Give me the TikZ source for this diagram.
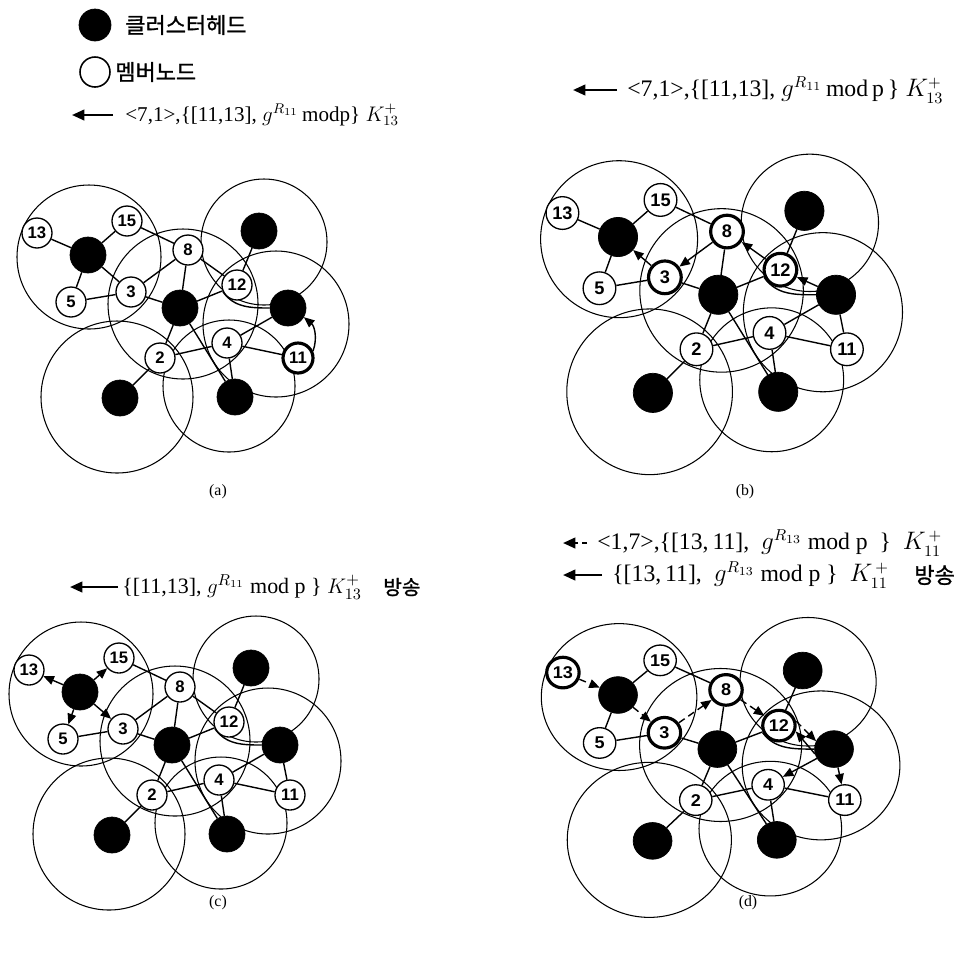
\documentclass[tikz,border=0pt]{standalone}
\usepackage{fontspec}
\setmainfont{Liberation Serif}
\newfontfamily\kofont[FakeBold=1.2]{Noto Sans CJK KR}
\newfontfamily\numfont{Liberation Sans}
\usetikzlibrary{arrows.meta}

\tikzset{
  headnode/.style={circle, fill=black, draw=black, minimum size=0.72cm, inner sep=0pt},
  memnode/.style={circle, fill=white, draw=black, line width=0.75pt, minimum size=0.6cm,
    inner sep=0pt, font=\numfont\bfseries\fontsize{9.5}{10}\selectfont},
  hotnode/.style={line width=1.8pt},
  cover/.style={draw=black, line width=0.6pt},
  linkline/.style={draw=black, line width=0.8pt},
  arrline/.style={linkline, -{Triangle[length=6pt,width=5pt]}},
  darrline/.style={arrline, dash pattern=on 4pt off 2.5pt},
  keyarr/.style={draw=black, line width=1.3pt, -{Triangle[length=7pt,width=6pt]}},
  dkeyarr/.style={keyarr, dash pattern=on 3pt off 2pt},
  ttl/.style={anchor=west, inner sep=0pt, font=\fontsize{12}{14}\selectfont},
  kottl/.style={anchor=west, inner sep=0pt, font=\kofont\fontsize{11.5}{13}\selectfont},
  plabel/.style={font=\fontsize{9}{10}\selectfont},
  h13/.style={}, h3/.style={}, h8/.style={}, h12/.style={}, h11/.style={},
}

% one cluster network: coverage ranges, heads, members and the fixed links
\newcommand{\netbase}[1]{%
  \draw[cover] (1,2) circle[radius=72];
  \draw[cover] (95,49) circle[radius=75];
  \draw[cover] (176,-13) circle[radius=63];
  \draw[cover] (188,69) circle[radius=73];
  \draw[cover] (29,142) circle[radius=76];
  \draw[cover] (141,131) circle[radius=66];
  \node[headnode] (#1h1) at (0,0) {};
  \node[headnode] (#1hc) at (92,53) {};
  \node[headnode] (#1ht) at (171,-24) {};
  \node[headnode] (#1hr) at (200,53) {};
  \node[headnode] (#1hl) at (32,143) {};
  \node[headnode] (#1hm) at (147,142) {};
  \node[memnode,h13] (#1n13) at (-51,-22) {13};
  \node[memnode] (#1n15) at (39,-34) {15};
  \node[memnode] (#1n5) at (-17,47) {5};
  \node[memnode,h3] (#1n3) at (43,37) {3};
  \node[memnode,h8] (#1n8) at (100,-5) {8};
  \node[memnode,h12] (#1n12) at (149,30) {12};
  \node[memnode] (#1n4) at (139,88) {4};
  \node[memnode,h11] (#1n11) at (210,103) {11};
  \node[memnode] (#1n2) at (72,103) {2};
  \draw[linkline] (#1n5) -- (#1n3);
  \draw[linkline] (#1n15) -- (#1n8);
  \draw[linkline] (#1n3) -- (#1hc);
  \draw[linkline] (#1n8) -- (#1hc);
  \draw[linkline] (#1n12) -- (#1hc);
  \draw[linkline] (#1n12) -- (#1ht);
  \draw[linkline] (#1n12.205) to[out=-55,in=180] (#1hr.west);
  \draw[linkline] (#1hc) -- (#1n2);
  \draw[linkline] (#1hc) -- (#1hm);
  \draw[linkline] (#1n2) -- (#1n4);
  \draw[linkline] (#1n2) -- (#1hl);
  \draw[linkline] (#1n4) -- (#1n11);
  \draw[linkline] (#1n4) -- (#1hm);
}

\begin{document}
\begin{tikzpicture}[x=0.02cm, y=-0.02cm]
\useasboundingbox (0,0) rectangle (962,958);

% legend
\node[headnode, minimum size=0.64cm] (lgh) at (95,25) {};
\node[anchor=west, inner sep=0pt, font=\kofont\fontsize{12.5}{14}\selectfont] (lght) at (125,25) {클러스터헤드};
\node[circle, draw=black, line width=0.9pt, minimum size=0.6cm, inner sep=0pt] (lgm) at (95,72) {};
\node[anchor=west, inner sep=0pt, font=\kofont\fontsize{12.5}{14}\selectfont] (lgmt) at (115,72) {멤버노드};

% (a) member 11 reports to its head
\coordinate (aa1) at (113,115); \coordinate (aa2) at (72,115);
\draw[keyarr] (aa1) -- (aa2);
\node[ttl] (ta) at (125,115) {<7,1>,\{[11,13], $g^{R_{11}}$\,modp\} $K^{+}_{13}$};
\begin{scope}[shift={(88,255)}, transform shape, h11/.style={hotnode}]
  \netbase{a}
  \draw[linkline] (ah1) -- (an13);
  \draw[linkline] (ah1) -- (an15);
  \draw[linkline] (ah1) -- (an5);
  \draw[linkline] (ah1) -- (an3);
  \draw[linkline] (an3) -- (an8);
  \draw[linkline] (an8) -- (an12);
  \draw[linkline] (an4) -- (ahr);
  \draw[arrline] (an11.25) to[out=70,in=-40] (ahr.-30);
\end{scope}
\node[plabel] (la) at (218,492) {(a)};

% (b) forwarding along 7 -> 12 -> 8 -> 3 -> 1
\coordinate (ba1) at (617,90); \coordinate (ba2) at (573,90);
\draw[keyarr] (ba1) -- (ba2);
\node[ttl, font=\fontsize{13.5}{15}\selectfont] (tb) at (627,90) {<7,1>,\{[11,13], $g^{R_{11}}$\,mod\,p\,\} $K^{+}_{13}$};
\begin{scope}[shift={(618,237)}, scale=1.09, transform shape,
    h3/.style={hotnode}, h8/.style={hotnode}, h12/.style={hotnode}]
  \netbase{b}
  \draw[linkline] (bh1) -- (bn13);
  \draw[linkline] (bh1) -- (bn15);
  \draw[linkline] (bh1) -- (bn5);
  \draw[arrline] (bn3) -- (bh1);
  \draw[arrline] (bn8) -- (bn3);
  \draw[arrline] (bn12) -- (bn8);
  \draw[arrline] (bhr) -- (bn12);
  \draw[linkline] (bn4) -- (bhr);
  \draw[linkline] (bn11) -- (bhr);
\end{scope}
\node[plabel] (lb) at (745,492) {(b)};

% (c) head 1 broadcasts to its members
\coordinate (ca1) at (118,587); \coordinate (ca2) at (70,587);
\draw[keyarr] (ca1) -- (ca2);
\node[ttl, font=\fontsize{12.5}{14}\selectfont] (tc) at (122,587) {\{[11,13], $g^{R_{11}}$ mod p \} $K^{+}_{13}$};
\node[kottl] (tcb) at (383,587) {방송};
\begin{scope}[shift={(80,692)}, transform shape]
  \netbase{c}
  \draw[arrline] (ch1) -- (cn13);
  \draw[arrline] (ch1) -- (cn15);
  \draw[arrline] (ch1) -- (cn5);
  \draw[arrline] (ch1) -- (cn3);
  \draw[linkline] (cn3) -- (cn8);
  \draw[linkline] (cn8) -- (cn12);
  \draw[linkline] (cn4) -- (chr);
  \draw[linkline] (cn11) -- (chr);
\end{scope}
\node[plabel] (lc) at (218,903) {(c)};

% (d) reply from 13 back to 11, then broadcast by head 7
\coordinate (da1) at (587,543); \coordinate (da2) at (563,543);
\draw[dkeyarr] (da1) -- (da2);
\node[ttl, font=\fontsize{13.5}{15}\selectfont] (td1) at (597,543)
  {<1,7>,\{[13,\,11],\ \ $g^{R_{13}}$\ mod\ p\ \ \}\ \ $K^{\,+}_{11}$};
\coordinate (db1) at (602,575); \coordinate (db2) at (563,575);
\draw[keyarr] (db1) -- (db2);
\node[ttl, font=\fontsize{13.5}{15}\selectfont] (td2) at (612,575)
  {\{[13,\,11],\ \ $g^{R_{13}}$\ mod\ p\ \}\ \ $K^{\,+}_{11}$};
\node[kottl, font=\kofont\fontsize{12.5}{14}\selectfont] (td2b) at (914,575) {방송};
\begin{scope}[shift={(618,695)}, xscale=1.08, yscale=1.02, transform shape,
    h13/.style={hotnode}, h3/.style={hotnode}, h8/.style={hotnode}, h12/.style={hotnode}]
  \netbase{d}
  \draw[darrline] (dn13) -- (dh1);
  \draw[linkline] (dh1) -- (dn15);
  \draw[linkline] (dh1) -- (dn5);
  \draw[darrline] (dh1) -- (dn3);
  \draw[darrline] (dn3) -- (dn8);
  \draw[darrline] (dn8) -- (dn12);
  \draw[darrline] (dn12.15) -- (dhr.155);
  \draw[arrline] (dhr.195) -- (dn12.-20);
  \draw[arrline] (dhr) -- (dn4);
  \draw[arrline] (dhr) -- (dn11);
\end{scope}
\node[plabel] (ld) at (748,903) {(d)};
\end{tikzpicture}
\end{document}
